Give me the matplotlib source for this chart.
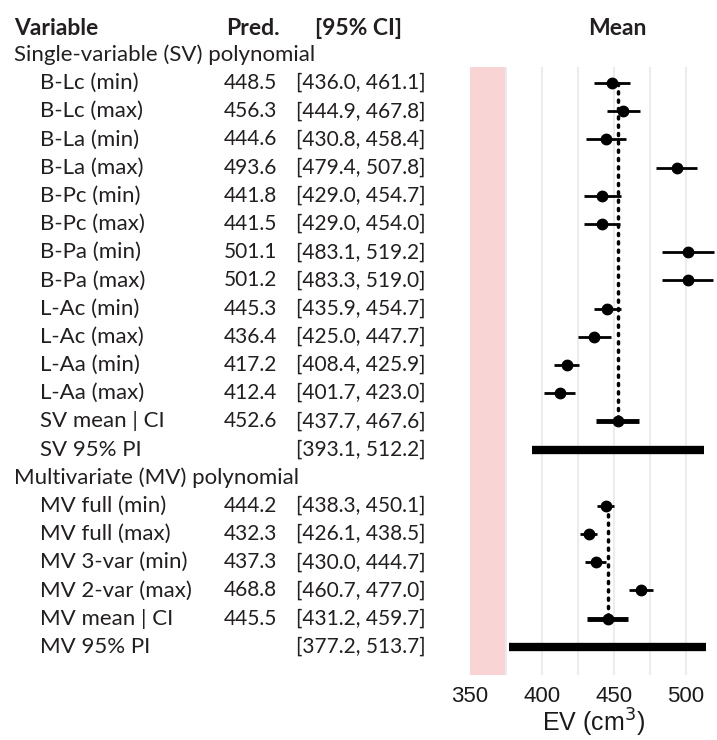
import matplotlib
matplotlib.use('Agg')
import matplotlib.pyplot as plt
import matplotlib.transforms as mtransforms

# single-variable (SV) models
sv_names = ['B-Lc (min)', 'B-Lc (max)', 'B-La (min)', 'B-La (max)',
            'B-Pc (min)', 'B-Pc (max)', 'B-Pa (min)', 'B-Pa (max)',
            'L-Ac (min)', 'L-Ac (max)', 'L-Aa (min)', 'L-Aa (max)']
sv_pred = [448.5, 456.3, 444.6, 493.6, 441.8, 441.5, 501.1, 501.2,
           445.3, 436.4, 417.2, 412.4]
sv_lo = [436.0, 444.9, 430.8, 479.4, 429.0, 429.0, 483.1, 483.3,
         435.9, 425.0, 408.4, 401.7]
sv_hi = [461.1, 467.8, 458.4, 507.8, 454.7, 454.0, 519.2, 519.0,
         454.7, 447.7, 425.9, 423.0]
sv_mean = [452.6, 437.7, 467.6]
sv_pi = [393.1, 512.2]

# multivariate (MV) models
mv_names = ['MV full (min)', 'MV full (max)', 'MV 3-var (min)', 'MV 2-var (max)']
mv_pred = [444.2, 432.3, 437.3, 468.8]
mv_lo = [438.3, 426.1, 430.0, 460.7]
mv_hi = [450.1, 438.5, 444.7, 477.0]
mv_mean = [445.5, 431.2, 459.7]
mv_pi = [377.2, 513.7]

# shaded region on the x axis
shade = [350, 375]

W, H = 717, 740
fig = plt.figure(figsize=(W / 100, H / 100), dpi=100)
ax = fig.add_axes([470 / W, 1 - 675 / H, (W - 470) / W, (675 - 67) / H])

txt_font = 'Lato'
fs_lab = 16      # row labels
fs_num = 15      # numbers
tr = mtransforms.blended_transform_factory(fig.transFigure, ax.transData)


def put(x_px, y, s, fs=fs_lab, **kw):
    kw.setdefault('family', txt_font)
    kw.setdefault('va', 'center')
    ax.text(x_px / W, y, s, transform=tr, clip_on=False, color='#231f20',
            fontsize=fs, **kw)


# header row
put(14, -1.95, 'Variable', fs=16.5, weight='bold')
put(226, -1.95, 'Pred.', fs=16.5, weight='bold')
put(315, -1.95, '[95% CI]', fs=16.5, weight='bold')
put(617, -1.95, 'Mean', fs=16.5, weight='bold', ha='center')


def block(start, title, names, pred, lo, hi, mean, pi):
    put(14, start - 1, title)
    for i, name in enumerate(names):
        y = start + i
        put(40, y, name)
        put(277, y, '%.1f' % pred[i], fs=fs_num, ha='right')
        put(296, y, '[%.1f, %.1f]' % (lo[i], hi[i]), fs=fs_num)
        ax.plot([lo[i], hi[i]], [y, y], color='black', lw=2, solid_capstyle='butt', zorder=3)
        ax.plot(pred[i], y, 'o', color='black', ms=7.5, zorder=4)
    y_m = start + len(names)
    short = title.split('(')[1][:2]
    put(40, y_m, short + ' mean | CI')
    put(277, y_m, '%.1f' % mean[0], fs=fs_num, ha='right')
    put(296, y_m, '[%.1f, %.1f]' % (mean[1], mean[2]), fs=fs_num)
    ax.plot([mean[1], mean[2]], [y_m, y_m], color='black', lw=3.5, solid_capstyle='butt', zorder=3)
    ax.plot(mean[0], y_m, 'o', color='black', ms=7.5, zorder=4)
    ax.plot([mean[0], mean[0]], [start, y_m], color='black', lw=2.5,
            linestyle=(0, (0.6, 1.8)), dash_capstyle='round', zorder=2)
    y_p = y_m + 1
    put(40, y_p, short + ' 95% PI')
    put(296, y_p, '[%.1f, %.1f]' % (pi[0], pi[1]), fs=fs_num)
    ax.plot([pi[0], pi[1]], [y_p, y_p], color='black', lw=6, solid_capstyle='butt', zorder=3)
    return y_p + 2


nxt = block(0, 'Single-variable (SV) polynomial', sv_names, sv_pred, sv_lo, sv_hi,
            sv_mean, sv_pi)
block(nxt, 'Multivariate (MV) polynomial', mv_names, mv_pred, mv_lo, mv_hi,
      mv_mean, mv_pi)

ax.axvspan(shade[0], shade[1], color='#f9d4d4', lw=0, zorder=0)
for g in range(375, 525, 25):
    ax.axvline(g, color='#ebebeb', lw=1.3, zorder=1)

ax.set_xlim(350, 350 + (W - 470) / 1.44)
ax.set_ylim(21.0, -0.57)
ax.set_yticks([])
ax.set_xticks([350, 400, 450, 500])
ax.tick_params(axis='x', length=0, labelsize=16, pad=8)
for lab in ax.get_xticklabels():
    lab.set_family('Liberation Sans')
    lab.set_color('#1a1a1a')
ax.set_xlabel('EV (cm$^3$)', fontsize=18, family='Liberation Sans', labelpad=0, color='#1a1a1a')
for sp in ax.spines.values():
    sp.set_visible(False)

fig.savefig('out.png', dpi=100)
